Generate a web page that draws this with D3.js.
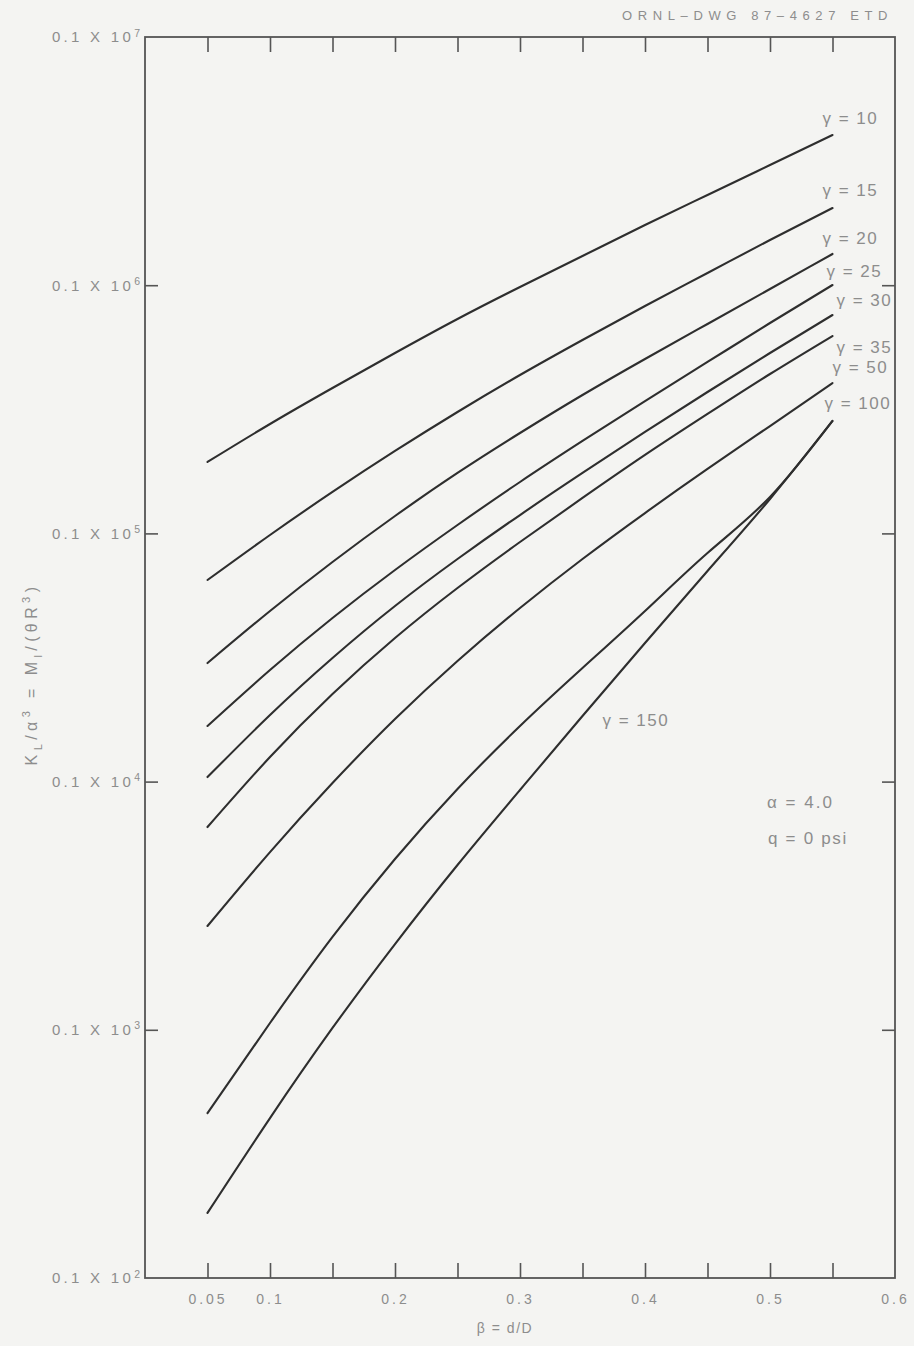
<!DOCTYPE html>
<html>
<head>
<meta charset="utf-8">
<script src="https://cdn.jsdelivr.net/npm/d3@7"></script>
<style>
  html, body { margin: 0; padding: 0; background: #f4f4f2; }
  svg { display: block; }
</style>
</head>
<body>
<div id="chart"></div>
<script>
// data (K on a log axis, labelled as 0.1 x 10^n)
const gammas = [10, 15, 20, 25, 30, 35, 50, 100, 150];
const rhoValues = [0.05, 0.1, 0.15, 0.2, 0.25, 0.3, 0.35, 0.4, 0.45, 0.5, 0.55];

const kG10 = [19400, 27590, 38530, 53310, 73090, 98330, 131100, 174800, 230900, 305000, 402900];
const kG15 = [6490, 9854, 14690, 21480, 30840, 43470, 60150, 82480, 112000, 152100, 204600];
const kG20 = [3004, 4868, 7670, 11750, 17520, 25380, 36110, 50440, 69790, 96540, 133600];
const kG25 = [1675, 2815, 4562, 7121, 10810, 16110, 23570, 34150, 49050, 70420, 100200];
const kG30 = [1043, 1855, 3148, 5099, 7887, 11860, 17520, 25620, 37130, 53310, 75840];
const kG35 = [656, 1256, 2253, 3789, 6026, 9234, 13890, 20700, 30280, 43870, 62420];
const kG50 = [262, 520, 987, 1787, 3062, 5005, 7887, 12080, 18180, 27080, 40360];
const kG100 = [46.2, 106.5, 236.6, 487.8, 933.7, 1675, 2868, 4868, 8337, 14020, 28380];
const kG150 = [18.3, 44.1, 101.7, 221.6, 461.3, 925.1, 1838, 3617, 7056, 13760, 28380];
const kSeries = [kG10, kG15, kG20, kG25, kG30, kG35, kG50, kG100, kG150];

const xTicks = [0.05, 0.1, 0.15, 0.2, 0.25, 0.3, 0.35, 0.4, 0.45, 0.5, 0.55];
const xTickLabels = [0.05, 0.1, 0.2, 0.3, 0.4, 0.5, 0.6];
const yDecades = [10, 100, 1000, 10000, 100000, 1000000];
const yInnerTicks = [100, 1000, 10000, 100000];

// label placement: which point of the curve, and pixel offset from it
const labelLayout = [
  { at: 10, dx: -10, dy: -17 },
  { at: 10, dx: -10, dy: -18 },
  { at: 10, dx: -10, dy: -16 },
  { at: 10, dx: -6, dy: -14 },
  { at: 10, dx: 4, dy: -15 },
  { at: 10, dx: 4, dy: 11 },
  { at: 10, dx: 0, dy: -16 },
  { at: 10, dx: -8, dy: -18 },
  { at: 6, dx: 20, dy: 4 }
];

const width = 914;
const height = 1346;
const font = "'Liberation Sans', Arial, Helvetica, sans-serif";
const textColor = "#8d8d8d";
const frameColor = "#555";
const lineColor = "#2e2e2e";

const svg = d3.select("#chart")
  .append("svg")
  .attr("width", width)
  .attr("height", height)
  .attr("font-family", font);

svg.append("rect").attr("width", width).attr("height", height).attr("fill", "#f4f4f2");

const x = d3.scaleLinear().domain([0, 0.6]).range([145, 895]);
const y = d3.scaleLog().domain([10, 1e6]).range([1278, 37]);

// frame
svg.append("rect")
  .attr("x", x(0))
  .attr("y", y(1e6))
  .attr("width", x(0.6) - x(0))
  .attr("height", y(10) - y(1e6))
  .attr("fill", "none")
  .attr("stroke", frameColor)
  .attr("stroke-width", 1.8);

function tickStyle(g) {
  g.select(".domain").remove();
  g.selectAll(".tick line").attr("stroke", frameColor).attr("stroke-width", 1.6);
}

// inward ticks on all four sides
svg.append("g")
  .attr("transform", `translate(0,${y(10)})`)
  .call(d3.axisBottom(x).tickValues(xTicks).tickSize(-15).tickFormat(""))
  .call(tickStyle);

svg.append("g")
  .attr("transform", `translate(0,${y(1e6)})`)
  .call(d3.axisTop(x).tickValues(xTicks).tickSize(-15).tickFormat(""))
  .call(tickStyle);

svg.append("g")
  .attr("transform", `translate(${x(0)},0)`)
  .call(d3.axisLeft(y).tickValues(yInnerTicks).tickSize(-13).tickFormat(""))
  .call(tickStyle);

svg.append("g")
  .attr("transform", `translate(${x(0.6)},0)`)
  .call(d3.axisRight(y).tickValues(yInnerTicks).tickSize(-13).tickFormat(""))
  .call(tickStyle);

// x tick labels
const xLab = svg.append("g")
  .attr("transform", `translate(0,${y(10)})`)
  .call(d3.axisBottom(x).tickValues(xTickLabels).tickSize(0).tickPadding(16).tickFormat(d => String(d)));
xLab.select(".domain").remove();
xLab.attr("font-family", font).attr("font-size", 14);
xLab.selectAll(".tick text").attr("fill", textColor).attr("letter-spacing", 3);

// y tick labels "0.1 X 10^n"
const yLab = svg.append("g")
  .attr("transform", `translate(${x(0)},0)`)
  .call(d3.axisLeft(y).tickValues(yDecades).tickSize(0).tickPadding(5).tickFormat(() => ""));
yLab.select(".domain").remove();
yLab.attr("font-family", font).attr("font-size", 15);
yLab.selectAll(".tick text").each(function (d) {
  const t = d3.select(this).attr("fill", textColor);
  t.append("tspan").attr("letter-spacing", 3.3).text("0.1 X 10");
  t.append("tspan")
    .attr("dy", "-0.55em")
    .attr("font-size", 10.5)
    .text(Math.round(Math.log10(d)) + 1);
});

// curves
const series = gammas.map((g, i) => ({
  gamma: g,
  values: rhoValues.map((r, j) => [r, kSeries[i][j]])
}));

const line = d3.line()
  .x(d => x(d[0]))
  .y(d => y(d[1]))
  .curve(d3.curveNatural);

svg.append("g")
  .selectAll("path")
  .data(series)
  .enter()
  .append("path")
  .attr("d", d => line(d.values))
  .attr("fill", "none")
  .attr("stroke", lineColor)
  .attr("stroke-width", 2.1)
  .attr("stroke-linecap", "round");

// curve labels
svg.append("g")
  .selectAll("text")
  .data(series)
  .enter()
  .append("text")
  .attr("x", (d, i) => x(d.values[labelLayout[i].at][0]) + labelLayout[i].dx)
  .attr("y", (d, i) => y(d.values[labelLayout[i].at][1]) + labelLayout[i].dy)
  .attr("dy", "0.35em")
  .attr("font-size", 17)
  .attr("letter-spacing", 1.5)
  .attr("fill", textColor)
  .text(d => "γ = " + d.gamma);

// parameter notes
svg.append("text")
  .attr("x", 767).attr("y", 802).attr("dy", "0.35em")
  .attr("font-size", 17).attr("letter-spacing", 2).attr("fill", textColor)
  .text("α = 4.0");

svg.append("text")
  .attr("x", 768).attr("y", 838).attr("dy", "0.35em")
  .attr("font-size", 17).attr("letter-spacing", 1.7).attr("fill", textColor)
  .text("q = 0 psi");

// drawing number
svg.append("text")
  .attr("x", 893).attr("y", 15).attr("dy", "0.35em")
  .attr("text-anchor", "end")
  .attr("font-size", 13).attr("letter-spacing", 5.6).attr("fill", textColor)
  .text("ORNL–DWG 87–4627 ETD");

// x axis title
svg.append("text")
  .attr("x", 505).attr("y", 1328).attr("dy", "0.35em")
  .attr("text-anchor", "middle")
  .attr("font-size", 14).attr("letter-spacing", 1.5).attr("fill", textColor)
  .text("β = d/D");

// y axis title with sub/superscripts
const yTitle = svg.append("text")
  .attr("transform", "translate(37,674) rotate(-90)")
  .attr("text-anchor", "middle")
  .attr("font-size", 16)
  .attr("letter-spacing", 4.4)
  .attr("fill", textColor);

const titleParts = [
  { t: "K" }, { t: "L", shift: 5 }, { t: "/α" }, { t: "3", shift: -7 },
  { t: " = M" }, { t: "l", shift: 5 }, { t: "/(θR" }, { t: "3", shift: -7 }, { t: ")" }
];
let current = 0;
titleParts.forEach(p => {
  const target = p.shift || 0;
  yTitle.append("tspan")
    .attr("dy", target - current)
    .attr("font-size", p.shift ? 11 : 16)
    .text(p.t);
  current = target;
});
</script>
</body>
</html>
